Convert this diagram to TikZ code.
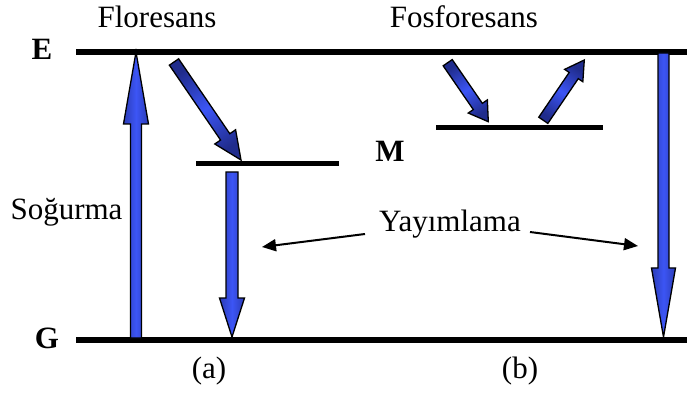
\documentclass[tikz,border=0pt]{standalone}
\usepackage{fontspec}
\setmainfont{Liberation Serif}
\usetikzlibrary{calc,arrows.meta}
\definecolor{bbright}{RGB}{60,85,245}
\definecolor{bdark}{RGB}{32,44,140}
\newcommand{\blockarrow}[6]{%
  \coordinate (hb) at ($(#2)!#5pt!(#1)$);
  \draw[blockarr,#6] ($(#1)!#3pt!90:(#2)$) -- ($(hb)!#3pt!-90:(#1)$) -- ($(hb)!#4pt!-90:(#1)$) -- (#2) -- ($(hb)!#4pt!90:(#1)$) -- ($(hb)!#3pt!90:(#1)$) -- ($(#1)!#3pt!-90:(#2)$) -- cycle;}
\tikzset{
  level/.style={line width=6pt},
  mlevel/.style={line width=5pt},
  blockarr/.style={draw=black, line width=1.3pt, line join=miter},
  vshade/.style={left color=bdark!60!bbright, right color=bdark!60!bbright, middle color=bbright},
  dshade/.style={top color=bdark, bottom color=bdark, middle color=bbright},
  lbl/.style={font=\fontsize{31}{36}\selectfont, inner sep=0pt, anchor=base},
  blbl/.style={lbl, font=\fontsize{31}{36}\selectfont\bfseries},
  thin/.style={line width=2pt, -{Triangle[length=14pt, width=12pt]}}
}
\begin{document}
\begin{tikzpicture}[x=1pt, y=-1pt]
\useasboundingbox (0,0) rectangle (689,393);
% levels
\coordinate (eL) at (76,52); \coordinate (eR) at (687,52);
\coordinate (gL) at (76,340); \coordinate (gR) at (687,340);
\coordinate (maL) at (196,164); \coordinate (maR) at (339,164);
\coordinate (mbL) at (436,128); \coordinate (mbR) at (603,128);
\draw[level] (eL) -- (eR);
\draw[level] (gL) -- (gR);
\draw[mlevel] (maL) -- (maR);
\draw[mlevel] (mbL) -- (mbR);
% block arrows
\coordinate (s0) at (136,338); \coordinate (s1) at (136,52);
\blockarrow{s0}{s1}{5.5}{12.5}{72}{vshade}
\coordinate (f0) at (174,62); \coordinate (f1) at (241,160);
\blockarrow{f0}{f1}{5.6}{12.6}{28}{dshade, shading angle=34}
\coordinate (a0) at (232,172); \coordinate (a1) at (232,337);
\blockarrow{a0}{a1}{6}{12.5}{39}{vshade}
\coordinate (p0) at (447.7,62.7); \coordinate (p1) at (488.3,121.7);
\blockarrow{p0}{p1}{5.5}{11.6}{18.5}{dshade, shading angle=34}
\coordinate (q0) at (543.3,120.3); \coordinate (q1) at (584.3,60);
\blockarrow{q0}{q1}{5.5}{11}{18.8}{dshade, shading angle=-35}
\coordinate (r0) at (663.5,53); \coordinate (r1) at (663.5,337);
\blockarrow{r0}{r1}{5.5}{12}{69}{vshade}
% labels
\node[lbl] (flo) at (157,27.5) {Floresans};
\node[lbl] (fos) at (464,27.5) {Fosforesans};
\node[blbl] (E) at (42,60) {E};
\node[blbl] (G) at (47,348) {G};
\node[blbl] (M) at (390,162) {M};
\node[lbl] (sog) at (66.5,220) {Soğurma};
\node[lbl] (yay) at (450,232) {Yayımlama};
\node[lbl] (la) at (209,378) {(a)};
\node[lbl] (lb) at (520,378) {(b)};
% thin arrows
\coordinate (t1) at (365,234); \coordinate (h1) at (262,247);
\coordinate (t2) at (530,232); \coordinate (h2) at (638,246);
\draw[thin] (t1) -- (h1);
\draw[thin] (t2) -- (h2);
\end{tikzpicture}
\end{document}
